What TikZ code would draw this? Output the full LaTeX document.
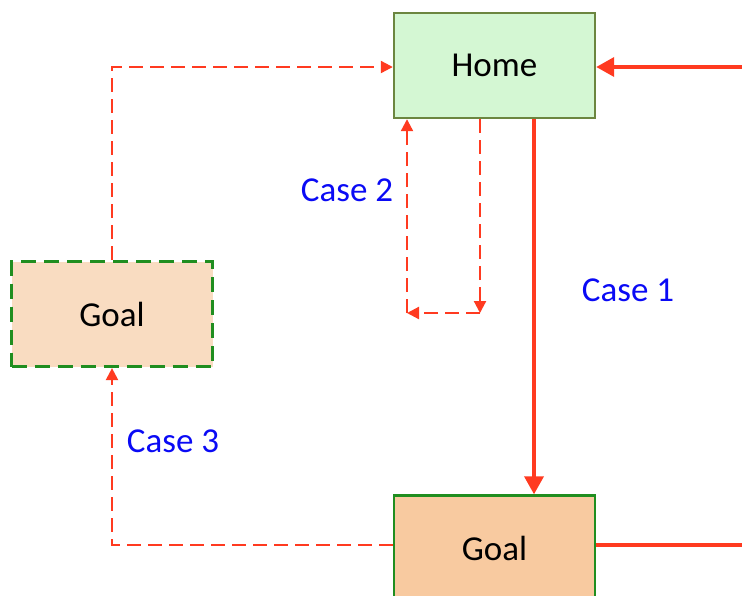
\documentclass[tikz,border=0pt]{standalone}
\usepackage{fontspec}
\setmainfont{Carlito}
\usetikzlibrary{arrows.meta,positioning}
\definecolor{piros}{RGB}{255,58,32}
\definecolor{kek}{RGB}{10,10,245}
\definecolor{homefill}{RGB}{212,247,211}
\definecolor{homeline}{RGB}{108,134,64}
\definecolor{goalfill}{RGB}{248,202,160}
\definecolor{altfill}{RGB}{249,220,193}
\definecolor{zold}{RGB}{32,142,32}
\tikzset{
  dob/.style={draw,minimum width=100.5pt,minimum height=52.5pt,inner sep=0pt,
    font=\fontsize{17.5}{21}\selectfont,text depth=0pt},
  utv/.style={draw=piros,line width=1.8pt,-{Triangle[length=9pt,width=9.5pt]}},
  ut/.style={draw=piros,line width=1.8pt},
  alt/.style={draw=piros,line width=1.1pt,dash pattern=on 7pt off 3.5pt,
    -{Triangle[length=6pt,width=6pt]}},
  eset/.style={text=kek,font=\fontsize{17.5}{21}\selectfont},
}
\begin{document}
\begin{tikzpicture}[x=0.5pt,y=-0.5pt]
  \useasboundingbox (0,0) rectangle (742,595);
  \clip (0,0) rectangle (742,595);
  \node[dob,fill=homefill,draw=homeline,line width=1.2pt] (home) at (494.5,65.5) {Home};
  \node[dob,fill=goalfill,draw=zold,line width=1.2pt] (goal) at (494.5,548) {Goal};
  \node[dob,fill=altfill,draw=zold,line width=1.6pt,dash pattern=on 7.5pt off 4pt] (goalalt) at (112,314) {Goal};
  \coordinate (be) at (745,67);
  \coordinate (ki) at (745,545);
  \coordinate (fent) at (112,67);
  \coordinate (lent) at (112,545);
  \coordinate (sarok1) at (480,313);
  \coordinate (sarok2) at (407,313);
  % case 1
  \draw[utv] (be) -- (home.east |- be);
  \draw[utv] (home.south -| 534,0) -- (goal.north -| 534,0);
  \draw[ut] (goal.east |- ki) -- (ki);
  % case 2
  \draw[alt] (home.south -| sarok1) -- (sarok1);
  \draw[alt] (sarok1) -- (sarok2);
  \draw[alt] (sarok2) -- (home.south -| sarok2);
  % case 3
  \draw[alt] (goalalt.north) -- (fent) -- (home.west |- fent);
  \draw[alt] (goal.west |- lent) -- (lent) -- (goalalt.south);
  \node[eset] (c1) at (628,290) {Case 1};
  \node[eset] (c2) at (347,190) {Case 2};
  \node[eset] (c3) at (173,441) {Case 3};
\end{tikzpicture}
\end{document}
